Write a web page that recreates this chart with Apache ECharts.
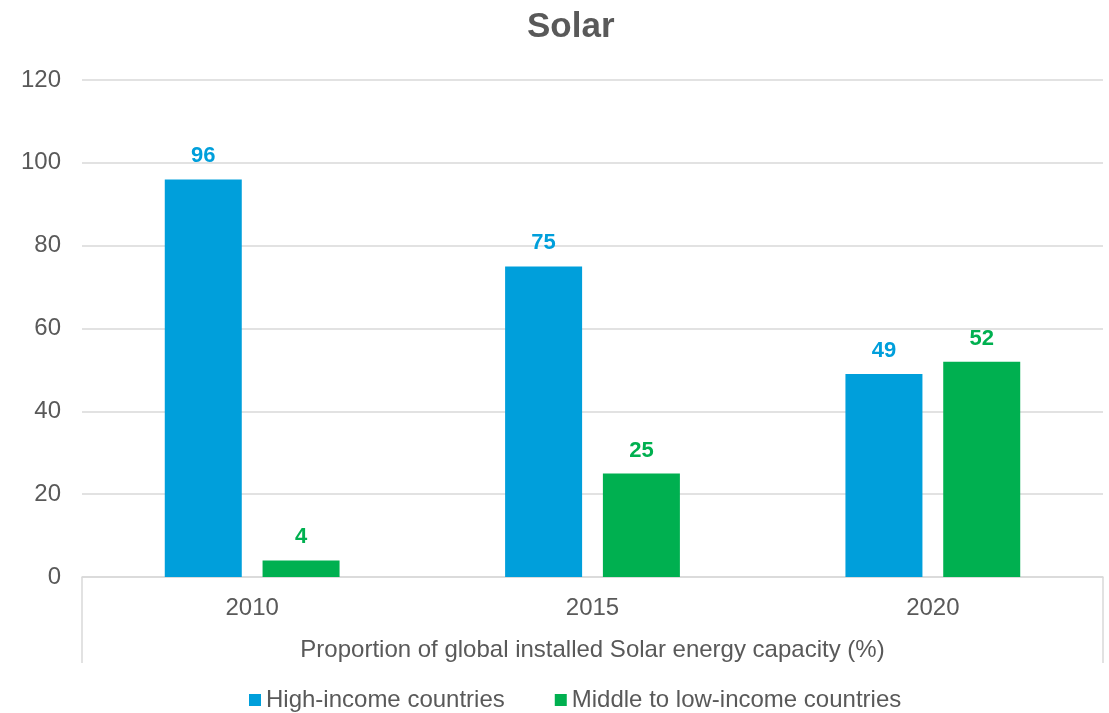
<!DOCTYPE html>
<html>
<head>
<meta charset="utf-8">
<title>Solar</title>
<script src="https://cdn.jsdelivr.net/npm/echarts@6/dist/echarts.min.js"></script>
<style>
  html, body { margin: 0; padding: 0; background: #ffffff; }
  #chart { width: 1109px; height: 713px; }
</style>
</head>
<body>
<div id="chart"></div>
<script>
// Share of global installed solar capacity (%), by country income group
const years = ['2010', '2015', '2020'];
const highIncome = [96, 75, 49];
const middleLowIncome = [4, 25, 52];
const seriesNames = ['High-income countries', 'Middle to low-income countries'];
const groupLabel = ['Proportion of global installed Solar energy capacity (%)'];

const TEXT = '#595959';
const LINE = '#d9d9d9';
const BLUE = '#009fdb';
const GREEN = '#00b050';
const FONT = '"Liberation Sans", Arial, sans-serif';

const chart = echarts.init(document.getElementById('chart'), null, { renderer: 'canvas' });

function barSeries(name, data, color) {
  return {
    name: name,
    type: 'bar',
    data: data,
    barWidth: 77,
    barGap: '27%',
    itemStyle: { color: color },
    label: {
      show: true,
      position: 'top',
      distance: 12,
      color: color,
      fontFamily: FONT,
      fontWeight: 'bold',
      fontSize: 22
    }
  };
}

chart.setOption({
  animation: false,
  backgroundColor: '#ffffff',
  textStyle: { fontFamily: FONT },
  title: {
    text: 'Solar',
    left: 522,
    top: 5,
    textStyle: { color: TEXT, fontFamily: FONT, fontWeight: 'bold', fontSize: 35 }
  },
  legend: {
    data: seriesNames,
    left: 244,
    top: 683,
    icon: 'rect',
    itemWidth: 12,
    itemHeight: 12,
    itemGap: 50,
    textStyle: { color: TEXT, fontFamily: FONT, fontSize: 24 }
  },
  grid: { left: 82, right: 6, top: 80, bottom: 136, containLabel: false },
  xAxis: [
    {
      type: 'category',
      data: years,
      position: 'bottom',
      axisLine: { show: true, lineStyle: { color: LINE, width: 1.5 } },
      axisTick: { show: false },
      axisLabel: { color: TEXT, fontFamily: FONT, fontSize: 24, margin: 19 }
    },
    {
      // outer category level: one group spanning all years, boxed by its boundary ticks
      type: 'category',
      data: groupLabel,
      position: 'bottom',
      axisLine: { show: false },
      axisTick: { show: true, length: 86, lineStyle: { color: LINE, width: 1.5 } },
      axisLabel: { color: TEXT, fontFamily: FONT, fontSize: 24, margin: 61 },
      splitLine: { show: false }
    }
  ],
  yAxis: {
    type: 'value',
    min: 0,
    max: 120,
    interval: 20,
    axisLine: { show: false },
    axisTick: { show: false },
    axisLabel: { color: TEXT, fontFamily: FONT, fontSize: 24, margin: 21 },
    splitLine: { lineStyle: { color: LINE, width: 1.5 } }
  },
  series: [
    barSeries(seriesNames[0], highIncome, BLUE),
    barSeries(seriesNames[1], middleLowIncome, GREEN)
  ]
});
</script>
</body>
</html>
